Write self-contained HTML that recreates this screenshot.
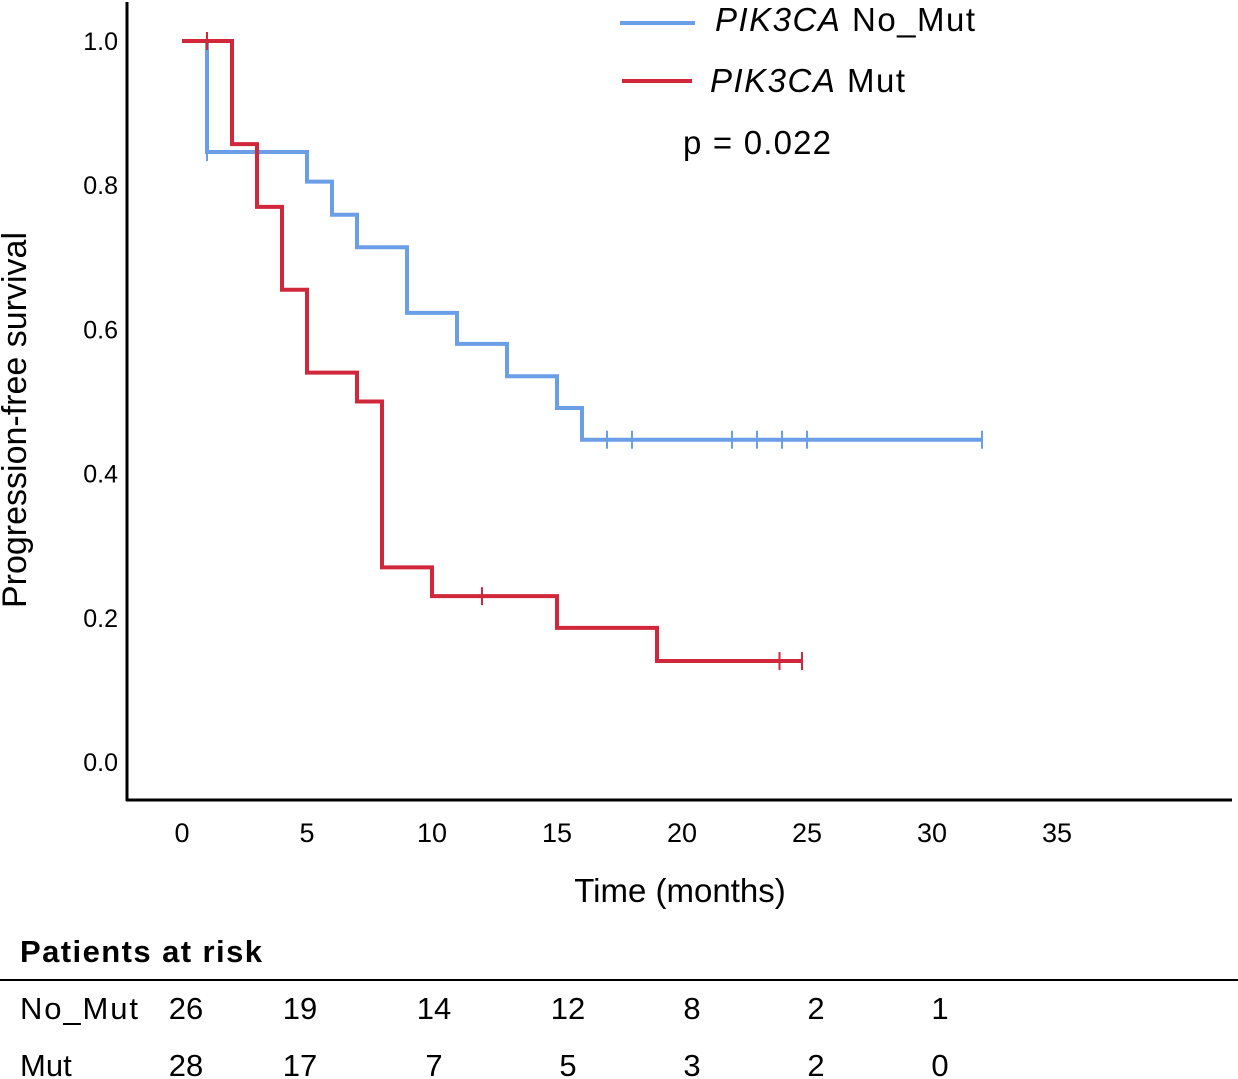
<!DOCTYPE html>
<html><head><meta charset="utf-8"><style>
body{margin:0;background:#fff;}
svg{display:block;font-family:"Liberation Sans",sans-serif;}
</style></head><body>
<svg id="chart" width="1238" height="1079" viewBox="0 0 1238 1079">
<line x1="127" y1="2" x2="127" y2="801" stroke="#000" stroke-width="3"/>
<line x1="126" y1="800" x2="1232" y2="800" stroke="#000" stroke-width="3"/>
<g id="yticks" font-size="25" text-anchor="end"></g>
<g id="xticks" font-size="27" text-anchor="middle"></g>
<text transform="translate(26,420) rotate(-90)" font-size="34" text-anchor="middle">Progression-free survival</text>
<text x="680" y="902" font-size="33" text-anchor="middle">Time (months)</text>
<g id="curves"></g>
<g>
<line x1="620" y1="23" x2="695" y2="23" stroke="#6a9ee6" stroke-width="4"/>
<text x="715" y="31" font-size="33" textLength="260"><tspan font-style="italic">PIK3CA</tspan> No_Mut</text>
<line x1="622" y1="81" x2="692" y2="81" stroke="#d0283a" stroke-width="4"/>
<text x="710" y="92" font-size="33" textLength="195"><tspan font-style="italic">PIK3CA</tspan> Mut</text>
<text x="683" y="154" font-size="33" textLength="148">p = 0.022</text>
</g>
<text x="20" y="962" font-size="31" font-weight="bold" textLength="242">Patients at risk</text>
<line x1="0" y1="980" x2="1238" y2="980" stroke="#000" stroke-width="2"/>
<text x="20" y="1019" font-size="31" textLength="118">No_Mut</text>
<text x="20" y="1076" font-size="31">Mut</text>
<g id="risk" font-size="31" text-anchor="middle"></g>
</svg>
<script>
const yTicks=[0.0,0.2,0.4,0.6,0.8,1.0];
const xTicks=[0,5,10,15,20,25,30,35];
const blueTimes=[0,1,5,6,7,9,11,13,15,16,32];
const blueSurv=[1.0,0.846,0.805,0.759,0.714,0.623,0.58,0.535,0.491,0.447,0.447];
const blueCensor=[17,18,22,23,24,25,32];
const redTimes=[0,2,3,4,5,7,8,10,15,19,24.8];
const redSurv=[1.0,0.857,0.77,0.655,0.54,0.5,0.27,0.23,0.186,0.14,0.14];
const redCensor=[1,12,23.9,24.8];
const riskNoMut=[26,19,14,12,8,2,1];
const riskMut=[28,17,7,5,3,2,0];
const riskX=[186,300,434,568,692,816,940];
const NS="http://www.w3.org/2000/svg";
const xs=t=>182+t*25;
const ys=v=>762-v*721;
function mk(tag,attrs,parent){const e=document.createElementNS(NS,tag);for(const k in attrs)e.setAttribute(k,attrs[k]);parent.appendChild(e);return e;}
const yg=document.getElementById('yticks');
yTicks.forEach(v=>{const t=mk('text',{x:118,y:ys(v)+9},yg);t.textContent=v.toFixed(1);

});
const xg=document.getElementById('xticks');
xTicks.forEach(v=>{const t=mk('text',{x:xs(v),y:842},xg);t.textContent=v;

});
const cg=document.getElementById('curves');
function levelAt(times,surv,c){let s=surv[0];for(let i=0;i<times.length;i++){if(times[i]<=c)s=surv[i];}return s;}
function curve(times,surv,cens,color,name){
 let d='M'+xs(times[0])+' '+ys(surv[0]);
 for(let i=1;i<times.length;i++){d+=' H'+xs(times[i])+' V'+ys(surv[i]);}
 const p=mk('path',{d:d,fill:'none',stroke:color,'stroke-width':4},cg);
 
 
 cens.forEach(c=>{const s=levelAt(times,surv,c);
  const l=mk('line',{x1:xs(c),x2:xs(c),y1:ys(s)-9,y2:ys(s)+9,stroke:color,'stroke-width':2},cg);
  
  });
}
curve(blueTimes,blueSurv,blueCensor,'#6a9ee6','curve-no-mut');
(function(){const l=mk('line',{x1:xs(1),x2:xs(1),y1:ys(blueSurv[1])-9,y2:ys(blueSurv[1])+9,stroke:'#6a9ee6','stroke-width':2},cg);

})();
curve(redTimes,redSurv,redCensor,'#d0283a','curve-mut');
const rg=document.getElementById('risk');
riskNoMut.forEach((v,i)=>{const t=mk('text',{x:riskX[i],y:1019},rg);t.textContent=v;

});
riskMut.forEach((v,i)=>{const t=mk('text',{x:riskX[i],y:1076},rg);t.textContent=v;

});
</script>
</body></html>
